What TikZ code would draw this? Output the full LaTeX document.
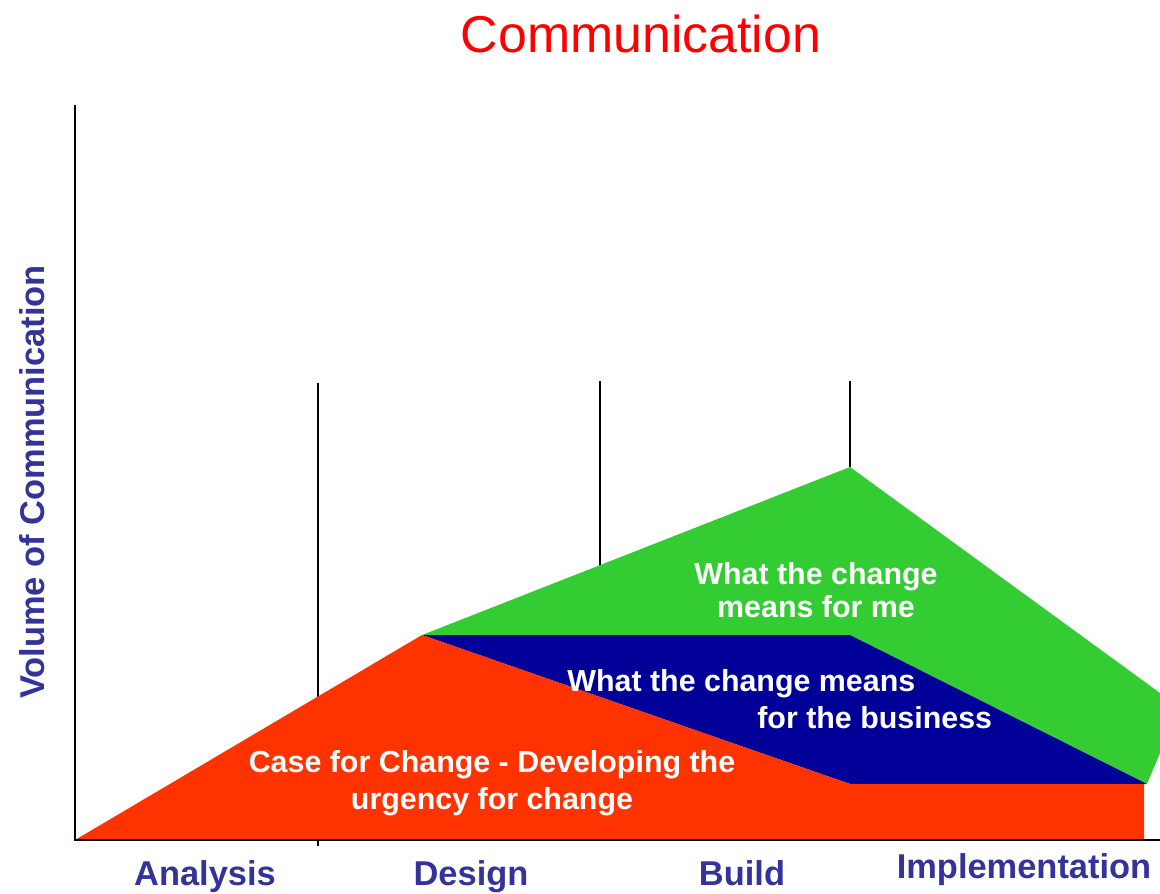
\documentclass[tikz,border=0pt]{standalone}
\usepackage{fontspec}
\setmainfont{Liberation Sans}
\definecolor{titleRed}{HTML}{FF0000}
\definecolor{caseRed}{HTML}{FF3300}
\definecolor{bizBlue}{HTML}{000099}
\definecolor{meGreen}{HTML}{33CC33}
\definecolor{labelBlue}{HTML}{333399}
\begin{document}
\begin{tikzpicture}[x=0.02cm,y=-0.02cm,
  phase/.style={font=\bfseries\fontsize{19.6}{23}\selectfont,text=labelBlue,anchor=base},
  area text/.style={font=\bfseries\fontsize{17.3}{#1}\selectfont,text=white,inner sep=0pt}]

\useasboundingbox (0,0) rectangle (1160,893);

\begin{scope}
\coordinate (o) at (75,840);
\coordinate (top) at (75,105);
\coordinate (end) at (1160,840);
\coordinate (p) at (422,635);
\coordinate (q) at (850,635);
\coordinate (r) at (850,784);
\coordinate (s) at (1144,784);
\coordinate (t) at (1144,840);
\coordinate (peak) at (850,467);
\coordinate (g1) at (1160,693);
\coordinate (g2) at (1160,753);
\coordinate (tip) at (1147,784);

% phase dividers
\draw[line width=0.8pt] (318,383) -- (318,846);
\draw[line width=0.8pt] (600,381) -- (600,640);
\draw[line width=0.8pt] (850,381) -- (peak);

\fill[meGreen] (p) -- (peak) -- (g1) -- (g2) -- (tip) -- (q) -- cycle;
\fill[bizBlue] (p) -- (q) -- (tip) -- (r) -- cycle;
\fill[caseRed] (o) -- (p) -- (r) -- (s) -- (t) -- cycle;

\draw[line width=1pt] (top) -- (o) -- (end);
%\draw[gray,dashed] (p) -- (q);
\end{scope}

\node[font=\fontsize{29.5}{34}\selectfont,text=titleRed,anchor=base] (title) at (641,52) {Communication};
\node[phase,rotate=90] (ylabel) at (44,482) {Volume of Communication};
\node[phase] (analysis) at (205,885) {Analysis};
\node[phase] (design) at (471,885) {Design};
\node[phase] (build) at (742,885) {Build};
\node[phase] (impl) at (1024,878) {Implementation};

\node[area text=18.7,align=center] (me) at (816,590) {What the change\\means for me};
\node[area text=21,align=left,anchor=west] (biz) at (567,699) {What the change means\\\hspace*{3.8cm}for the business};
\node[area text=21,align=center] (case) at (492,783) {Case for Change - Developing the\\urgency for change};

\end{tikzpicture}
\end{document}
